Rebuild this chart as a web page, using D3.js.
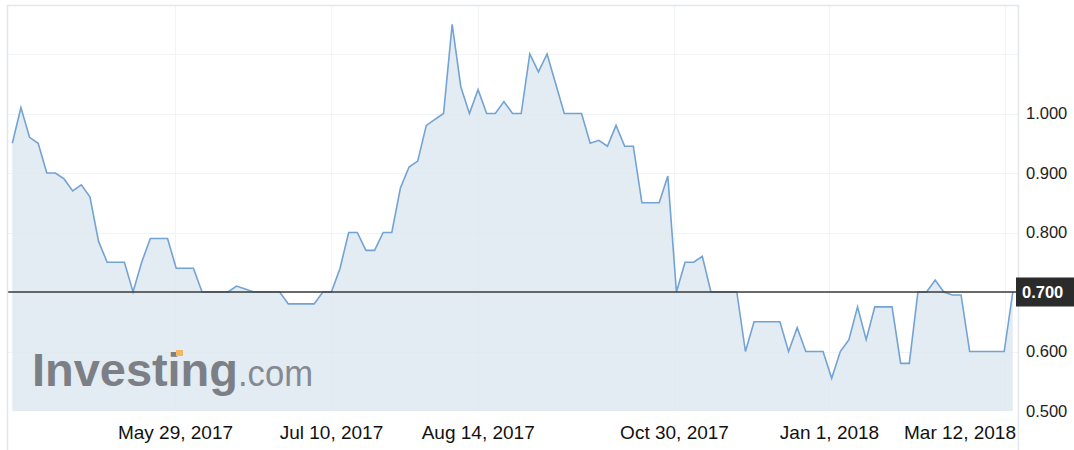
<!DOCTYPE html>
<html>
<head>
<meta charset="utf-8">
<script src="https://cdn.jsdelivr.net/npm/d3@7"></script>
<style>
  html, body { margin: 0; padding: 0; background: #fff; }
  svg { display: block; }
</style>
</head>
<body>
<svg id="chart" width="1074" height="450"></svg>
<script>
// ---- data ----
const prices = [
  0.95, 1.01, 0.96, 0.95, 0.90, 0.90, 0.89, 0.87, 0.88, 0.86,
  0.785, 0.75, 0.75, 0.75, 0.70, 0.75, 0.79, 0.79, 0.79, 0.74,
  0.74, 0.74, 0.70, 0.70, 0.70, 0.70, 0.71, 0.705, 0.70, 0.70,
  0.70, 0.70, 0.68, 0.68, 0.68, 0.68, 0.70, 0.70, 0.74, 0.80,
  0.80, 0.77, 0.77, 0.80, 0.80, 0.875, 0.91, 0.92, 0.98, 0.99,
  1.00, 1.15, 1.045, 1.00, 1.04, 1.00, 1.00, 1.02, 1.00, 1.00,
  1.10, 1.07, 1.10, 1.05, 1.00, 1.00, 1.00, 0.95, 0.955, 0.945,
  0.98, 0.945, 0.945, 0.85, 0.85, 0.85, 0.895, 0.70, 0.75, 0.75,
  0.76, 0.70, 0.70, 0.70, 0.70, 0.60, 0.65, 0.65, 0.65, 0.65,
  0.60, 0.64, 0.60, 0.60, 0.60, 0.555, 0.60, 0.62, 0.675, 0.62,
  0.675, 0.675, 0.675, 0.58, 0.58, 0.70, 0.70, 0.72, 0.70, 0.695,
  0.695, 0.60, 0.60, 0.60, 0.60, 0.60, 0.70
];
const xTickLabels = ["May 29, 2017", "Jul 10, 2017", "Aug 14, 2017", "Oct 30, 2017", "Jan 1, 2018", "Mar 12, 2018"];
const xTickIndex = [18.86, 36.95, 53.96, 76.72, 94.69, 115.1];
const yTickValues = [0.5, 0.6, 0.7, 0.8, 0.9, 1.0];
const yGridValues = [0.6, 0.7, 0.8, 0.9, 1.0, 1.1];
const lastPrice = 0.70;
const lastPriceLabel = "0.700";

// ---- layout ----
const svg = d3.select("#chart");
const frame = { left: 7.5, right: 1018.5, top: 5.5, bottom: 450 };
const x = d3.scaleLinear().domain([0, prices.length - 1]).range([12.3, 1012.8]);
const y = d3.scaleLinear().domain([0.5, 1.1]).range([411, 54]);

// gridlines
svg.append("g").selectAll("line").data(yGridValues).join("line")
  .attr("x1", frame.left).attr("x2", frame.right)
  .attr("y1", d => Math.round(y(d)) + 0.5).attr("y2", d => Math.round(y(d)) + 0.5)
  .attr("stroke", "#f1f3f6").attr("stroke-width", 1);
svg.append("g").selectAll("line").data(xTickIndex).join("line")
  .attr("x1", d => Math.round(x(d)) + 0.5).attr("x2", d => Math.round(x(d)) + 0.5)
  .attr("y1", frame.top).attr("y2", y(0.5))
  .attr("stroke", "#f1f3f6").attr("stroke-width", 1);

// area + line
const area = d3.area().x((d, i) => x(i)).y0(y(0.5)).y1(d => y(d));
const line = d3.line().x((d, i) => x(i)).y(d => y(d));
svg.append("path").datum(prices).attr("d", area)
  .attr("fill", "#dce7ef").attr("fill-opacity", 0.8);

// watermark
const wm = svg.append("g");
wm.append("text").attr("x", 32).attr("y", 386)
  .attr("font-family", "Liberation Sans, Arial, sans-serif")
  .attr("font-weight", "bold").attr("font-size", 47)
  .attr("textLength", 206).attr("lengthAdjust", "spacing")
  .attr("fill", "#7c8086").text("Investing");
wm.append("text").attr("x", 238).attr("y", 386)
  .attr("font-family", "Liberation Sans, Arial, sans-serif")
  .attr("font-size", 37)
  .attr("textLength", 75).attr("lengthAdjust", "spacingAndGlyphs")
  .attr("fill", "#858990").text(".com");
wm.append("rect").attr("x", 176).attr("y", 350).attr("width", 7).attr("height", 6)
  .attr("fill", "#f0b765");

svg.append("path").datum(prices).attr("d", line)
  .attr("fill", "none").attr("stroke", "#72a3d4").attr("stroke-width", 1.6)
  .attr("stroke-linejoin", "miter");

// last price line
svg.append("line")
  .attr("x1", frame.left).attr("x2", 1016)
  .attr("y1", y(lastPrice)).attr("y2", y(lastPrice))
  .attr("stroke", "#3a3a3a").attr("stroke-width", 1.6);

// frame
svg.append("path")
  .attr("d", `M${frame.left},${frame.bottom}V${frame.top}H${frame.right}V${frame.bottom}`)
  .attr("fill", "none").attr("stroke", "#e2e6ec").attr("stroke-width", 1.5);

// y axis labels
const yAxis = d3.axisRight(y).tickValues(yTickValues.filter(v => v !== lastPrice))
  .tickFormat(d3.format(".3f")).tickSize(0).tickPadding(0);
const yg = svg.append("g").attr("transform", "translate(1026,0)").call(yAxis);
yg.select(".domain").remove();
yg.selectAll("text")
  .attr("font-family", "Liberation Sans, Arial, sans-serif")
  .attr("font-size", 16.5).attr("fill", "#222");

// last price box
svg.append("rect").attr("x", 1016).attr("y", y(lastPrice) - 14.5)
  .attr("width", 60).attr("height", 29).attr("fill", "#2b2b2b");
svg.append("text").attr("x", 1022).attr("y", y(lastPrice))
  .attr("dy", "0.36em")
  .attr("font-family", "Liberation Sans, Arial, sans-serif")
  .attr("font-weight", "bold").attr("font-size", 16.5).attr("fill", "#fff")
  .text(lastPriceLabel);

// x axis labels
const xAxis = d3.axisBottom(x).tickValues(xTickIndex)
  .tickFormat((d, i) => xTickLabels[i]).tickSize(0).tickPadding(0);
const xg = svg.append("g").attr("transform", "translate(0,425)").call(xAxis);
xg.select(".domain").remove();
xg.selectAll("text")
  .attr("font-family", "Liberation Sans, Arial, sans-serif")
  .attr("font-size", 19).attr("fill", "#111");
// keep labels inside the frame
xg.selectAll(".tick").each(function() {
  const t = d3.select(this).select("text");
  const bb = this.getBBox();
  const tr = d3.select(this).attr("transform");
  const tx = +tr.match(/translate\(([-\d.]+)/)[1];
  const right = tx + bb.x + bb.width;
  if (right > 1016) t.attr("x", 1016 - right);
});
</script>
</body>
</html>
